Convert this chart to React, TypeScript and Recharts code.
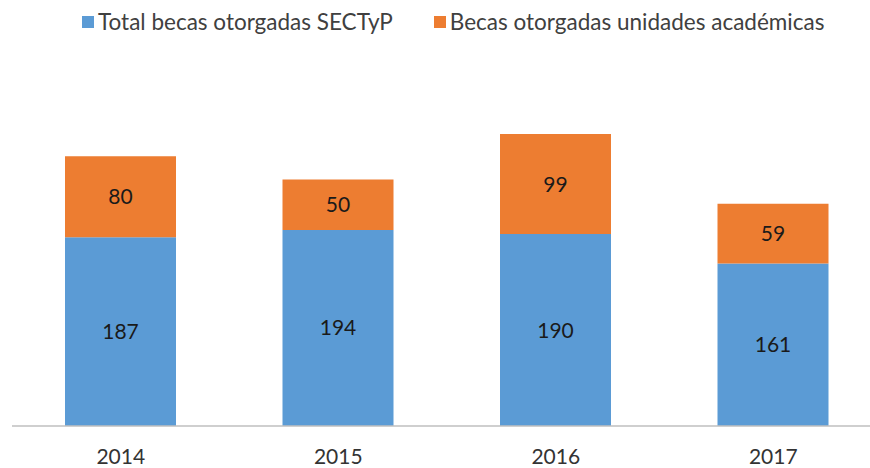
import { Bar, BarChart, LabelList, XAxis, YAxis } from 'recharts';

const years = ['2014', '2015', '2016', '2017'];
const sectypValues = [187, 194, 190, 161];
const unidadesValues = [80, 50, 99, 59];

const seriesNames = ['Total becas otorgadas SECTyP', 'Becas otorgadas unidades académicas'];
const seriesColors = ['#5B9BD5', '#ED7D31'];

const data = years.map((year, i) => ({
  year,
  sectyp: sectypValues[i],
  unidades: unidadesValues[i],
}));

const FONT = 'Lato, "Open Sans", sans-serif';

const LegendRow = () => (
  <div
    style={{
      position: 'absolute',
      top: 8,
      left: 82,
      display: 'flex',
      alignItems: 'center',
      fontFamily: FONT,
      fontSize: 22.5,
      lineHeight: '28px',
      color: '#404040',
      whiteSpace: 'nowrap',
    }}
  >
    {seriesNames.map((name, i) => (
      <div
        key={name}
        style={{ display: 'flex', alignItems: 'center', marginRight: i === 0 ? 41 : 0 }}
      >
        <span
          style={{
            width: 12,
            height: 12,
            background: seriesColors[i],
            display: 'inline-block',
            marginRight: 4,
          }}
        />
        <span>{name}</span>
      </div>
    ))}
  </div>
);

const App = () => {
  return (
    <div
      style={{
        position: 'absolute',
        left: 0,
        top: 0,
        width: 870,
        height: 468,
        overflow: 'hidden',
        background: '#fff',
      }}
    >
      <LegendRow />
      <BarChart
        width={882}
        height={468}
        data={data}
        margin={{ top: 123, right: 0, bottom: 0, left: 12 }}
        barCategoryGap={0}
      >
        <XAxis
          dataKey='year'
          axisLine={{ stroke: '#BFBFBF', strokeWidth: 1.5 }}
          tickLine={false}
          height={42}
          tick={{ fill: '#333333', fontSize: 21, fontFamily: FONT, dy: 15 }}
        />
        <YAxis hide domain={[0, 300]} />
        <Bar
          dataKey='sectyp'
          stackId='a'
          fill={seriesColors[0]}
          barSize={111}
          isAnimationActive={false}
        >
          <LabelList
            dataKey='sectyp'
            position='center'
            fill='#1a1a1a'
            fontSize={21}
            fontFamily={FONT}
          />
        </Bar>
        <Bar
          dataKey='unidades'
          stackId='a'
          fill={seriesColors[1]}
          barSize={111}
          isAnimationActive={false}
        >
          <LabelList
            dataKey='unidades'
            position='center'
            fill='#1a1a1a'
            fontSize={21}
            fontFamily={FONT}
          />
        </Bar>
      </BarChart>
    </div>
  );
};

export default App;
